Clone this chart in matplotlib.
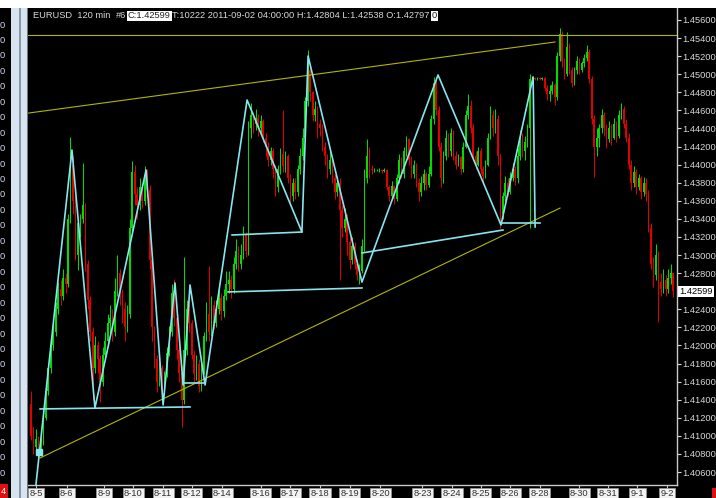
import numpy as np
import matplotlib
matplotlib.use("Agg")
import matplotlib.pyplot as plt
from matplotlib.patches import Rectangle

plt.rcParams['font.family'] = ['Liberation Sans', 'DejaVu Sans']

BASE = 1.40   # all prices below are pips above 1.4000
PIP = 0.0001

# EURUSD 120 min bars, 8-5 .. 9-2
close_pips = [
    100, 88, 96, 80, 92, 120, 150, 175, 200, 215,
    240, 262, 255, 275, 268, 340, 400, 360, 300, 335,
    340, 355, 290, 250, 215, 175, 200, 185, 160, 190,
    205, 225, 230, 215, 260, 280, 255, 240, 220, 235,
    330, 392, 368, 355, 375, 360, 388, 372, 295, 220,
    185, 160, 175, 150, 168, 192, 215, 258, 230, 195,
    170, 140, 195, 240, 225, 190, 168, 180, 155, 172,
    210, 235, 215, 245, 225, 240, 252, 238, 255, 268,
    272, 262, 290, 305, 290, 300, 322, 305, 440, 455,
    445, 452, 440, 448, 430, 420, 405, 415, 395, 375,
    395, 412, 398, 410, 385, 365, 380, 370, 395, 410,
    430, 470, 505, 480, 455, 462, 445, 440, 420, 410,
    395, 405, 385, 370, 380, 350, 330, 340, 315, 295,
    310, 290, 278, 282, 310, 385, 410, 395, 394, 394,
    394, 394, 393, 394, 375, 365, 376, 362, 385, 405,
    390, 415, 428, 405, 390, 400, 380, 370, 380, 390,
    378, 390, 450, 490, 460, 420, 385, 410, 430, 415,
    435, 410, 400, 408, 395, 420, 455, 465, 440, 410,
    400, 415, 395, 388, 400, 430, 455, 440, 450, 410,
    345, 365, 380, 370, 385, 395, 385, 410, 430, 415,
    425, 440, 495, 496, 495, 496, 495, 496, 485, 478,
    482, 488, 475, 520, 545, 515, 500, 530, 505, 490,
    505, 515, 505, 512, 518, 525, 495, 450, 420, 430,
    440, 455, 440, 428, 440, 430, 445, 432, 455, 462,
    445, 430, 400, 380, 392, 375, 385, 370, 380, 368,
    330, 290, 278, 300, 270, 262, 272, 262, 275, 279.7, 259.9,
]
high_pips = [
    150, 110, 108, 100, 98, 125, 155, 180, 205, 225,
    248, 270, 272, 285, 280, 345, 431, 410, 365, 340,
    345, 402, 358, 295, 255, 220, 210, 205, 190, 198,
    215, 235, 245, 240, 275, 300, 285, 262, 248, 245,
    340, 404, 400, 375, 385, 380, 398, 395, 378, 300,
    222, 190, 182, 178, 172, 198, 222, 268, 274, 235,
    200, 178, 298, 250, 268, 228, 195, 190, 185, 180,
    215, 248, 288, 255, 250, 250, 262, 258, 262, 282,
    282, 278, 298, 318, 310, 312, 332, 325, 448, 468,
    458, 462, 456, 455, 450, 435, 425, 420, 418, 400,
    400, 418, 460, 415, 412, 390, 385, 385, 400, 418,
    440, 475, 527, 510, 482, 470, 465, 450, 445, 425,
    412, 415, 410, 390, 388, 385, 355, 352, 345, 320,
    320, 315, 295, 290, 318, 395, 428, 420, 400, 396,
    395, 396, 395, 396, 395, 378, 382, 378, 390, 412,
    408, 420, 432, 430, 410, 405, 402, 385, 388, 395,
    392, 398, 455, 497, 495, 465, 425, 415, 438, 435,
    440, 438, 415, 412, 410, 425, 460, 478, 472, 445,
    415, 420, 418, 398, 405, 435, 465, 460, 462, 455,
    412, 370, 388, 385, 392, 402, 398, 418, 438, 435,
    432, 445, 500, 498, 497, 497, 497, 497, 497, 488,
    488, 492, 490, 525, 551, 548, 518, 547, 535, 508,
    508, 520, 518, 515, 522, 532, 528, 498, 455, 440,
    445, 462, 458, 445, 448, 445, 452, 448, 460, 468,
    465, 450, 435, 405, 398, 395, 390, 388, 386, 385,
    372, 335, 298, 312, 305, 280, 285, 278, 285, 290, 280.4,
]
low_pips = [
    95, 80, 82, 70, 78, 90, 118, 145, 170, 195,
    210, 235, 245, 250, 258, 265, 335, 345, 295, 283,
    320, 335, 282, 240, 205, 140, 170, 170, 138, 155,
    185, 200, 212, 205, 210, 255, 245, 225, 205, 215,
    230, 325, 355, 340, 350, 352, 355, 365, 285, 205,
    175, 148, 155, 140, 145, 165, 188, 210, 222, 185,
    160, 110, 135, 190, 215, 185, 160, 162, 148, 150,
    168, 205, 205, 210, 218, 220, 235, 228, 232, 250,
    258, 252, 258, 285, 282, 285, 296, 298, 300, 430,
    435, 438, 432, 435, 425, 410, 398, 400, 385, 365,
    370, 390, 392, 392, 380, 358, 360, 362, 365, 390,
    405, 428, 465, 470, 448, 448, 430, 432, 415, 400,
    385, 390, 380, 362, 365, 272, 320, 325, 300, 285,
    290, 285, 272, 268, 280, 305, 380, 385, 390, 392,
    393, 392, 391, 392, 372, 360, 362, 356, 360, 380,
    385, 385, 410, 400, 385, 385, 375, 360, 365, 372,
    372, 375, 388, 445, 455, 415, 375, 380, 405, 408,
    410, 405, 395, 398, 390, 392, 418, 450, 435, 405,
    395, 398, 390, 380, 385, 398, 428, 432, 435, 400,
    330, 340, 360, 365, 368, 382, 378, 380, 405, 408,
    405, 420, 330, 494, 494, 494, 494, 494, 482, 472,
    470, 478, 466, 472, 515, 508, 495, 498, 500, 486,
    488, 500, 500, 502, 508, 515, 490, 445, 386, 410,
    420, 435, 432, 418, 425, 422, 428, 425, 430, 450,
    440, 425, 395, 372, 375, 368, 372, 362, 365, 360,
    325, 285, 265, 272, 226, 255, 258, 255, 258, 268, 253.8,
]
first_open_pips = 135

# date labels (bar index of each label)
date_pos = [2, 14.5, 29.5, 41.5, 53.5, 65, 77.5, 93, 105, 117, 129, 141.5,
            158.5, 170.5, 182, 194, 206, 222, 233.5, 245.5, 257.5]
date_lbl = ['8-5', '8-6', '8-9', '8-10', '8-11', '8-12', '8-14', '8-16', '8-17',
            '8-18', '8-19', '8-20', '8-23', '8-24', '8-25', '8-26', '8-28',
            '8-30', '8-31', '9-1', '9-2']

# hand drawn zigzag (bar index, pips)
zz_x = [2.0, 16.6, 25.9, 46.6, 53.5, 58.3, 61.6, 64.4, 70.5, 87.5,
        109.7, 112.2, 134.0, 164.8, 190.3, 203.3, 204.1]
zz_p = [45.7, 416.2, 130.9, 394.1, 134.2, 269.1, 156.3, 266.9, 156.3, 471.5,
        325.5, 520.2, 270.2, 499.2, 333.3, 497.0, 331.1]
# neckline segments: x0, x1, p0, p1
necks = [(3.7, 64.4, 129.8, 132.0),
         (61.6, 70.5, 158.5, 158.5),
         (81.4, 109.7, 322.2, 325.5),
         (79.8, 134.0, 259.2, 263.6),
         (134.0, 191.1, 302.3, 327.7),
         (190.7, 206.1, 335.5, 335.5)]
# yellow trend lines
upper_tl = ((-1.2, 212.2), (457.0, 535.7))
lower_tl = ((3.7, 214.2), (75.6, 352.0))
resist_pips = 543.4
marker = (3.3, 82.2)

# ---------------------------------------------------------------------------
W, H = 716, 498
fig = plt.figure(figsize=(W / 100, H / 100), dpi=100, facecolor='black')

def fx(px):
    return px / W

def fy(py):
    return 1 - py / H

# top white strip and the splitter on the left
fig.patches.append(Rectangle((0, fy(8)), 1, 8 / H, transform=fig.transFigure,
                             facecolor='white', edgecolor='none'))
fig.patches.append(Rectangle((fx(11), 0), 16 / W, fy(8), transform=fig.transFigure,
                             facecolor='#d8e3f0', edgecolor='none'))
fig.patches.append(Rectangle((fx(18.5), 0), 2.2 / W, fy(8), transform=fig.transFigure,
                             facecolor='#8796a8', edgecolor='none'))
fig.patches.append(Rectangle((fx(26.5), 0), 1.2 / W, fy(8), transform=fig.transFigure,
                             facecolor='#6a7684', edgecolor='none'))

# clipped labels of the neighbour window
for py in np.arange(25, 480, 15.45):
    fig.text(fx(4.5), fy(py), '0', ha='right', va='center', fontsize=6.7,
             color='#c8d6ea')
fig.text(fx(1), fy(491), '4', ha='left', va='center', fontsize=6.7, color='white',
         bbox=dict(boxstyle='square,pad=0.25', fc='#e01010', ec='none'))
fig.patches.append(Rectangle((fx(712), 0), 4 / W, 10 / H, transform=fig.transFigure,
                             facecolor='#e01010', edgecolor='none'))

ax = fig.add_axes([fx(28), 1 - 485 / H, (677 - 28) / W, (485 - 8) / H])
ax.set_facecolor('black')

closes = BASE + np.array(close_pips) * PIP
highs = BASE + np.array(high_pips) * PIP
lows = BASE + np.array(low_pips) * PIP
opens = np.concatenate([[BASE + first_open_pips * PIP], closes[:-1]])
idx = np.arange(len(closes))
up = closes >= opens
cols = np.where(up, '#00dc00', '#e00000')

ax.vlines(idx, lows, highs, colors=cols, linewidth=0.75, zorder=2)
body = np.maximum(np.abs(closes - opens), 0.6 * PIP)
ax.bar(idx, body, bottom=np.minimum(opens, closes), width=0.62, color=cols,
       linewidth=0, zorder=3)

yel = '#b4b400'
ax.axhline(BASE + resist_pips * PIP, color=yel, lw=0.8, zorder=4)
ax.plot(upper_tl[0], BASE + np.array(upper_tl[1]) * PIP, color=yel, lw=0.8, zorder=4)
ax.plot(lower_tl[0], BASE + np.array(lower_tl[1]) * PIP, color=yel, lw=0.8, zorder=4)

cyan = '#86e6ef'
ax.plot(zz_x, BASE + np.array(zz_p) * PIP, color=cyan, lw=1.2, zorder=5)
for x0, x1, p0, p1 in necks:
    ax.plot([x0, x1], [BASE + p0 * PIP, BASE + p1 * PIP], color=cyan, lw=1.2, zorder=5)
ax.plot([marker[0]], [BASE + marker[1] * PIP], 's', ms=4.5, color=cyan, zorder=6)

ax.set_xlim(-1.2, 261.55)
ax.set_ylim(1.404567, 1.457327)

for s in ['top', 'left']:
    ax.spines[s].set_visible(False)
for s in ['right', 'bottom']:
    ax.spines[s].set_color('#c8c8c8')
    ax.spines[s].set_linewidth(1)

ax.yaxis.tick_right()
yt = [t for t in np.arange(1.406, 1.4565, 0.002) if abs(t - 1.426) > 1e-6]
ax.set_yticks(yt)
ax.set_yticklabels(['%.5f' % t for t in yt])
ax.tick_params(axis='y', colors='#d8d8d8', labelsize=6.7, length=3, pad=1, width=0.8)

ax.set_xticks(date_pos)
ax.set_xticklabels(date_lbl)
ax.tick_params(axis='x', colors='#c8c8c8', labelcolor='#303030', labelsize=6.7,
               length=2, pad=1.2, width=0.8)
for lbl in ax.get_xticklabels():
    lbl.set_bbox(dict(boxstyle='square,pad=0.15', fc='#f2f2f2', ec='#9a9a9a', lw=0.5))

# current price box
ax.text(1.004, closes[-1], '%.5f' % closes[-1], transform=ax.get_yaxis_transform(),
        ha='left', va='center', fontsize=6.7, color='black',
        bbox=dict(boxstyle='square,pad=0.12', fc='white', ec='none'), clip_on=False)

# header
hdr_col = '#d8d8d8'
fig.text(fx(33), fy(16), 'EURUSD  120 min', fontsize=6.7, color=hdr_col, va='center')
fig.text(fx(116), fy(16), '#6', fontsize=6.7, color=hdr_col, va='center')
fig.text(fx(128), fy(16), 'C:1.42599', fontsize=6.7, color='#202020', va='center',
         bbox=dict(boxstyle='square,pad=0.08', fc='white', ec='none'))
fig.text(fx(172.5), fy(16), 'T:10222 2011-09-02 04:00:00 H:1.42804 L:1.42538 O:1.42797',
         fontsize=6.7, color=hdr_col, va='center')
fig.text(fx(432), fy(16), '0', fontsize=6.7, color='#202020', va='center',
         bbox=dict(boxstyle='square,pad=0.08', fc='white', ec='none'))

fig.savefig('out.png', dpi=100, facecolor='black')
